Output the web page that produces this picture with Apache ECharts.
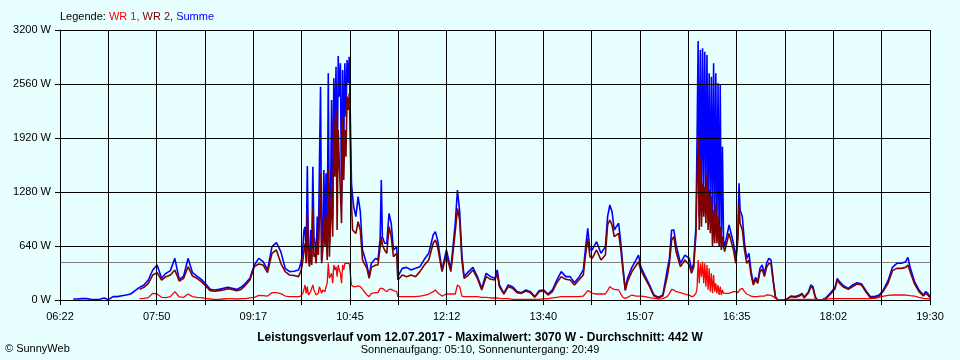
<!DOCTYPE html>
<html><head><meta charset="utf-8">
<script src="https://cdn.jsdelivr.net/npm/echarts@6/dist/echarts.min.js"></script>
<style>html,body{margin:0;padding:0;background:#E8FFFF}#c{width:960px;height:360px}</style>
</head><body><div id="c"></div>
<script>
// time axis (minutes since midnight): 06:22 .. 19:30, 18 grid slots, label every 2nd
const startMin = 382;
const endMin = 1170;
const slotCount = 18;
const yMax = 3200;
const yStep = 640;
const average = 442;
const legendNames = ['WR 1', 'WR 2', 'Summe'];
const titleText = 'Leistungsverlauf vom 12.07.2017 - Maximalwert: 3070 W - Durchschnitt: 442 W';
const subText = 'Sonnenaufgang: 05:10, Sonnenuntergang: 20:49';
const copyText = '\u00A9 SunnyWeb';

const times = [
 394,398,402,406,410,414,418,422,426,430,434,438,442,446,450,
 454,458,462,466,470,474,478,482,486,490,494,498,502,506,510,514,518,
 522,526,530,534,538,542,546,550,554,558,562,566,570,574,578,582,586,590,594,
 598,599,600,601,602,603,604,605,606,607,608,609,610,611,612,613,614,615,616,617,618,619,620,621,622,623,624,625,626,627,628,629,630,631,632,633,634,635,636,637,638,639,640,641,642,643,644,645,646,647,648,
 650,652,654,656,660,662,664,668,670,672,673,674,676,678,680,682,684,687,688,692,696,700,704,
 708,712,716,720,722,724,728,732,736,740,742,744,746,748,752,756,760,764,768,772,776,778,780,784,788,792,796,800,804,808,812,816,820,824,828,832,836,840,844,848,852,856,858,860,862,864,868,872,876,878,880,882,884,888,890,892,894,896,900,904,906,908,912,916,920,924,928,932,934,936,938,940,944,948,952,
 954,956,957,958,959,960,961,962,963,964,965,966,967,968,969,970,971,972,973,974,975,976,977,978,979,980,981,982,983,984,
 988,992,994,996,997,998,1000,1002,1004,1006,1008,1010,1012,1014,1016,1018,1020,1022,1024,1026,1028,1030,1032,1036,1040,1044,1048,1052,1054,1056,1060,1062,1064,1066,1068,1072,1076,1080,1084,1086,1088,1092,1096,1100,1104,1108,1112,1116,1120,1124,1128,1132,1136,1140,1144,1148,1150,1152,1156,1160,1164,1166,1168,1170
];

const summe = [
 12,12,16,16,8,4,8,24,4,40,40,51,59,71,111,
 150,178,237,356,415,257,316,348,494,245,284,494,324,284,245,190,126,
 119,126,138,150,138,126,150,198,257,415,494,454,356,632,679,573,375,336,340,
 356,387,435,494,632,830,869,514,1588,593,435,830,474,1580,751,672,474,988,672,1620,2528,474,751,1541,830,1501,553,2686,672,1146,2370,988,2627,1896,2765,1304,2891,2410,2805,1146,2726,1817,2805,2173,2844,2568,2884,2891,1383,1225,1106,
 988,1225,1047,593,415,277,435,494,474,731,1422,751,672,672,1027,909,593,632,277,375,387,356,375,
 395,482,553,770,810,711,356,593,363,909,1304,1047,533,277,336,387,277,138,316,277,257,356,178,79,178,158,99,87,119,99,40,111,119,71,119,237,336,277,277,205,269,356,612,849,593,593,691,553,632,988,1126,1047,830,909,672,375,126,257,387,482,533,395,284,178,59,32,59,356,494,830,830,652,435,533,494,
 356,435,672,869,1896,3070,988,2963,1146,2983,1264,2943,1225,2903,1146,2686,1067,2647,948,2805,909,2686,830,2568,751,2548,672,1817,711,632,
 889,672,494,790,1383,1067,988,672,494,553,336,198,269,217,375,415,316,435,494,474,237,40,0,0,8,47,40,59,79,32,99,178,158,40,0,0,28,87,150,257,217,166,138,178,205,190,111,40,40,59,126,229,387,435,435,454,506,387,217,119,59,99,79,40
];

const wr1 = [
 null,null,null,null,null,null,null,null,null,null,null,null,null,null,null,
 16,20,28,79,71,32,28,40,99,36,32,71,40,32,28,20,12,
 8,8,12,16,16,12,16,16,24,32,55,51,47,87,87,75,47,40,40,
 40,40,47,59,79,99,178,79,158,59,59,99,79,178,119,138,59,79,79,158,138,79,119,138,99,158,198,435,257,277,316,198,415,356,395,277,415,356,316,198,415,356,435,415,435,415,435,435,178,158,158,
 158,166,158,126,59,40,79,87,87,138,158,138,119,99,126,126,111,99,40,40,40,40,40,
 47,55,71,99,119,87,47,71,71,71,178,158,47,40,40,40,40,32,32,24,24,24,20,16,16,8,8,8,8,8,8,8,16,16,24,32,40,40,40,40,40,47,79,111,99,79,71,71,71,111,158,138,126,119,71,32,20,32,59,47,47,47,40,28,20,12,16,40,79,126,119,99,87,71,59,
 40,47,47,79,138,474,198,435,277,454,198,435,158,415,119,375,99,316,79,296,99,198,79,178,59,158,59,119,79,99,
 79,99,99,87,99,126,138,99,71,59,47,40,40,40,47,47,47,59,59,55,40,20,0,0,0,8,8,8,8,8,8,8,8,8,0,0,8,16,16,16,16,16,16,16,16,16,16,16,20,32,47,55,59,59,59,59,55,51,47,32,20,16,16,8
];

const wr2 = [
 null,null,null,null,null,null,null,null,null,null,null,null,null,null,null,
 126,150,198,296,324,237,277,296,356,225,257,395,284,257,217,166,111,
 103,111,119,134,126,111,126,174,237,395,427,415,324,553,593,435,336,296,290,
 277,296,336,387,474,593,672,435,1027,474,395,593,415,1067,514,553,435,711,533,988,1501,435,593,988,632,988,474,1541,514,909,1343,751,2173,1462,2252,830,2015,1620,1620,909,2173,1422,2015,1699,2410,2252,2449,2469,1146,830,830,
 790,928,830,474,375,257,387,415,415,632,751,652,593,553,869,751,514,553,237,296,277,296,277,
 336,415,474,672,711,632,336,533,336,810,1086,948,474,257,296,356,257,119,277,245,237,316,158,71,158,138,87,79,107,87,32,99,111,59,99,205,277,245,237,178,237,296,533,731,514,494,593,474,533,889,948,889,751,790,593,336,111,217,336,415,454,356,257,158,47,24,47,277,435,711,751,573,395,474,415,
 316,387,593,770,1422,1936,830,1699,869,1383,988,1343,909,1501,830,1304,790,1225,632,1067,672,1146,672,988,632,869,593,751,632,573,
 790,593,435,711,1146,909,830,593,435,474,296,178,237,198,336,363,277,387,435,427,217,32,0,0,8,40,32,47,71,24,87,158,138,32,0,0,20,71,134,237,198,150,126,158,190,178,95,28,28,47,111,198,348,375,375,387,415,336,190,99,47,79,59,28
];

const FONT = '"Liberation Sans", Arial, sans-serif';
function hhmm(m) {
  const r = Math.round(m);
  const h = Math.floor(r / 60), mm = r % 60;
  return (h < 10 ? '0' : '') + h + ':' + (mm < 10 ? '0' : '') + mm;
}
function pts(arr) { return times.map((t, i) => [t - startMin, arr[i]]); }

const chart = echarts.init(document.getElementById('c'), null, {renderer: 'canvas'});
const span = endMin - startMin;
chart.setOption({
  animation: false,
  backgroundColor: '#E8FFFF',
  textStyle: {fontFamily: FONT},
  grid: {left: 60, right: 30, top: 30, bottom: 60, containLabel: false},
  xAxis: {
    type: 'value', min: 0, max: span, interval: span / slotCount, z: 4,
    axisLine: {show: true, lineStyle: {color: '#000', width: 1}},
    axisTick: {show: true, length: 5, lineStyle: {color: '#000'}},
    splitLine: {show: true, lineStyle: {color: '#000', width: 1}},
    axisLabel: {
      color: '#000', fontSize: 11, fontFamily: FONT, margin: 11,
      showMinLabel: true, showMaxLabel: true,
      formatter: (v, i) => (i % 2 === 0 ? hhmm(v + startMin) : '')
    }
  },
  yAxis: {
    type: 'value', min: 0, max: yMax, interval: yStep, z: 4,
    axisLine: {show: true, lineStyle: {color: '#000', width: 1}},
    axisTick: {show: true, length: 5, lineStyle: {color: '#000'}},
    splitLine: {show: true, lineStyle: {color: '#000', width: 1}},
    axisLabel: {color: '#000', fontSize: 11, fontFamily: FONT, margin: 9, formatter: (v) => String(v) + ' W'}
  },
  series: [
    {
      name: legendNames[2], type: 'line', data: pts(summe), showSymbol: false,
      lineStyle: {color: '#0000FF', width: 1.6}, itemStyle: {color: '#0000FF'},
      markLine: {
        z: 1, silent: true, symbol: 'none', label: {show: false},
        lineStyle: {color: '#808080', type: 'solid', width: 1},
        data: [{yAxis: average}]
      }
    },
    {
      name: legendNames[1], type: 'line', data: pts(wr2), showSymbol: false,
      lineStyle: {color: '#800000', width: 1.6}, itemStyle: {color: '#800000'}
    },
    {
      name: legendNames[0], type: 'line', data: pts(wr1), showSymbol: false,
      lineStyle: {color: '#FF0000', width: 1.3}, itemStyle: {color: '#FF0000'}
    }
  ],
  graphic: [
    {
      type: 'text', left: 60, top: 11,
      style: {
        text: '{k|Legende: }{r|' + legendNames[0] + ', }{d|' + legendNames[1] + ', }{b|' + legendNames[2] + '}',
        font: '11px ' + FONT,
        rich: {
          k: {fill: '#000000', fontSize: 11, fontFamily: FONT},
          r: {fill: '#FF0000', fontSize: 11, fontFamily: FONT},
          d: {fill: '#800000', fontSize: 11, fontFamily: FONT},
          b: {fill: '#0000FF', fontSize: 11, fontFamily: FONT}
        }
      }
    },
    {
      type: 'text', x: 480, y: 338,
      style: {text: titleText, font: 'bold 12px ' + FONT, fill: '#000', align: 'center', verticalAlign: 'middle'}
    },
    {
      type: 'text', x: 480, y: 350,
      style: {text: subText, font: '11px ' + FONT, fill: '#000', align: 'center', verticalAlign: 'middle'}
    },
    {
      type: 'text', x: 5, y: 349,
      style: {text: copyText, font: '11px ' + FONT, fill: '#000', align: 'left', verticalAlign: 'middle'}
    }
  ]
});
</script>
</body></html>
